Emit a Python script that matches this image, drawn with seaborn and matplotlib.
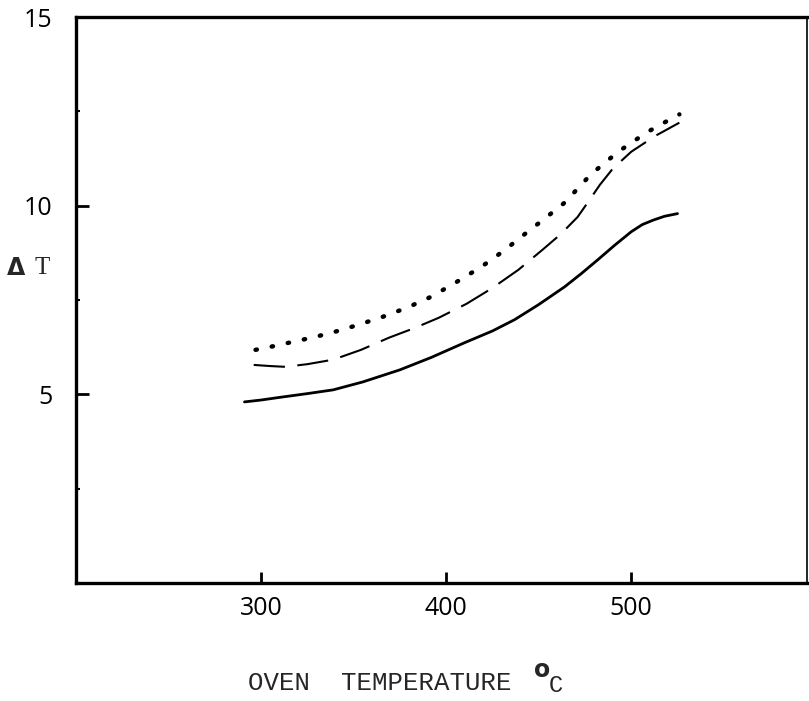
import numpy as np
import pandas as pd
import seaborn as sns
import matplotlib.pyplot as plt
from matplotlib.ticker import MultipleLocator

# curves (oven temperature in C, delta T)
solid_temp = [291, 300, 310, 325, 339, 355, 375, 392, 410, 425, 437, 450,
              464, 473, 482, 491, 500, 506, 512, 518, 525]
solid_dt = [4.80, 4.85, 4.92, 5.02, 5.12, 5.33, 5.65, 5.98, 6.37, 6.68, 6.98,
            7.38, 7.85, 8.20, 8.57, 8.95, 9.31, 9.50, 9.62, 9.72, 9.79]

dashed_temp = [296, 305, 313, 325, 339, 354, 369, 383, 396, 411, 425, 439,
               452, 462, 471, 477, 483, 490, 500, 513, 526]
dashed_dt = [5.78, 5.75, 5.73, 5.80, 5.92, 6.18, 6.50, 6.76, 7.03, 7.40, 7.82,
             8.30, 8.83, 9.25, 9.70, 10.12, 10.55, 10.98, 11.43, 11.85, 12.20]

dotted_temp = [297, 307, 317, 329, 340, 353, 366, 379, 392, 405, 419, 431,
               442, 453, 464, 471, 478, 486, 493, 501, 509, 517, 526]
dotted_dt = [6.18, 6.28, 6.39, 6.52, 6.66, 6.85, 7.06, 7.30, 7.59, 7.96, 8.38,
             8.80, 9.23, 9.65, 10.08, 10.45, 10.82, 11.15, 11.43, 11.70, 11.96,
             12.18, 12.42]

x_ticks = [300, 400, 500]
y_ticks = [5, 10, 15]

sns.set_style("ticks")
plt.rcParams["font.family"] = ["Open Sans", "DejaVu Sans"]

fig = plt.figure(figsize=(8.09, 7.01), dpi=100)
ax = fig.add_axes([0.094, 0.1683, 0.9036, 0.8074])

solid = pd.DataFrame({"temp": solid_temp, "dt": solid_dt})
dashed = pd.DataFrame({"temp": dashed_temp, "dt": dashed_dt})
dotted = pd.DataFrame({"temp": dotted_temp, "dt": dotted_dt})

sns.lineplot(data=solid, x="temp", y="dt", ax=ax, color="black", lw=2.0)
sns.lineplot(data=dashed, x="temp", y="dt", ax=ax, color="black", lw=1.5,
             linestyle=(0, (15, 6)))
sns.lineplot(data=dotted, x="temp", y="dt", ax=ax, color="black", lw=3.2,
             linestyle=(0, (0.3, 3.4)), dash_capstyle="round")

ax.set_xlim(200, 595)
ax.set_ylim(0, 15)
ax.set_xticks(x_ticks)
ax.set_yticks(y_ticks)
ax.yaxis.set_minor_locator(MultipleLocator(2.5))
ax.tick_params(axis="y", which="major", direction="in", length=9, width=2,
               pad=17, labelsize=18, colors="black")
ax.tick_params(axis="y", which="minor", direction="in", length=3, width=1.5,
               colors="black")
ax.tick_params(axis="x", which="major", direction="in", length=8, width=2,
               pad=9, labelsize=18, colors="black")
ax.set_xlabel("")
ax.set_ylabel("")

for side in ["left", "top", "bottom"]:
    ax.spines[side].set_linewidth(2.4)
ax.spines["right"].set_linewidth(1.2)
for side in ax.spines:
    ax.spines[side].set_visible(True)
    ax.spines[side].set_color("black")

# axis labels as on the original typed sheet
fig.text(0.009, 1 - 268 / 701, "Δ", fontsize=17, fontweight="bold",
         family="DejaVu Sans", ha="left", va="center")
fig.text(0.043, 1 - 268 / 701, "T", fontsize=18, family="Liberation Serif",
         ha="left", va="center")
fig.text(0.306, 1 - 683 / 701, "OVEN  TEMPERATURE", fontsize=18.5,
         family="Liberation Mono", ha="left", va="center")
fig.text(0.660, 1 - 670 / 701, "o", fontsize=17, fontweight="bold",
         family="DejaVu Sans", ha="left", va="center")
fig.text(0.678, 1 - 685 / 701, "C", fontsize=17, family="Liberation Mono",
         ha="left", va="center")

fig.savefig("out.png", dpi=100)
